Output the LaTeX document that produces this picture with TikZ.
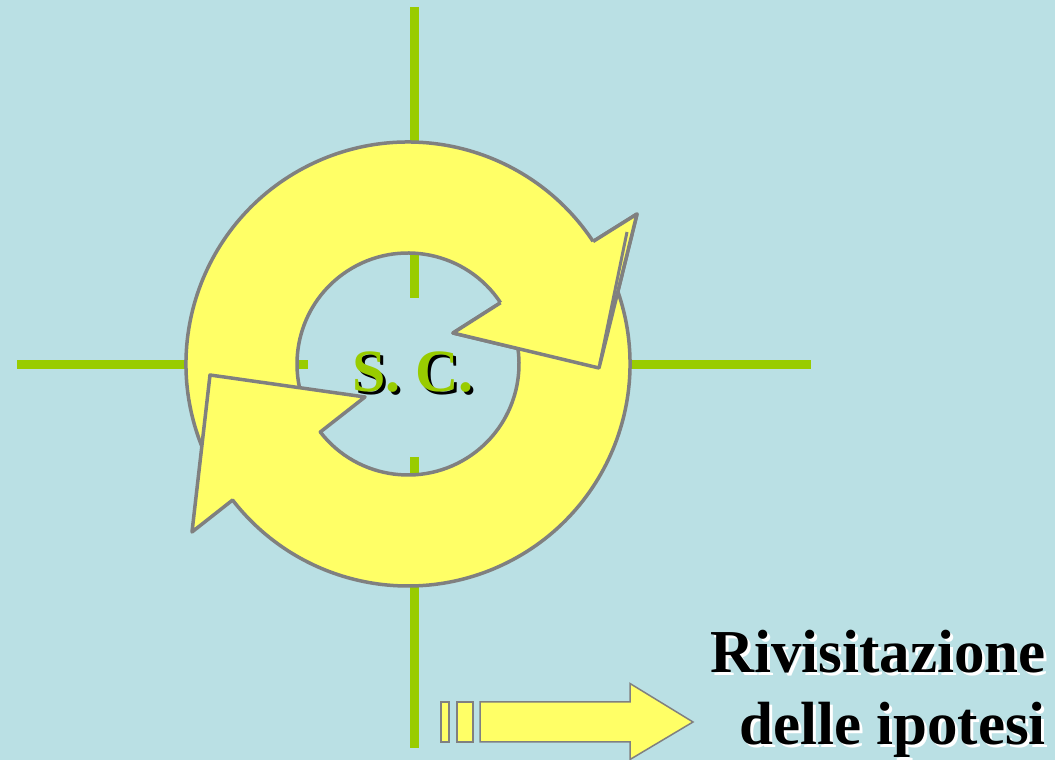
\documentclass[tikz,border=0pt]{standalone}
\usepackage{fontspec}
\setmainfont{Liberation Serif}
\usetikzlibrary{calc}
\definecolor{bg}{RGB}{186,224,228}
\definecolor{ylw}{RGB}{255,255,102}
\definecolor{grn}{RGB}{153,204,0}
\definecolor{edgegray}{RGB}{128,128,128}
\newcommand{\shadowtext}[4]{\makebox[0pt][l]{\hspace{#1}\raisebox{-#1}{\color{#2}#4}}{\color{#3}#4}}
\begin{document}
\begin{tikzpicture}[x=1pt,y=1pt,
  ring/.style={fill=ylw,draw=edgegray,line width=3.5pt,line join=round},
  ringedge/.style={draw=edgegray,line width=3.5pt,line join=round},
  spoke/.style={draw=grn,line width=9pt},
  smallbox/.style={fill=ylw,draw=edgegray,line width=1.5pt},
  bigtxt/.style={font=\fontsize{61}{72}\selectfont\bfseries,anchor=base east,inner sep=0pt},
  sctxt/.style={font=\fontsize{60}{72}\selectfont\bfseries,anchor=base west,inner sep=0pt}]
\fill[bg] (0,0) rectangle (1055,760);
\useasboundingbox (0,0) rectangle (1055,760);

\coordinate (c) at (408,396);
% spokes of the cross
\coordinate (sT1) at (414.5,753); \coordinate (sT2) at (414.5,462);
\coordinate (sB1) at (414.5,303); \coordinate (sB2) at (414.5,12);
\coordinate (sL1) at (17,395.5);  \coordinate (sL2) at (308,395.5);
\coordinate (sR1) at (520,395.5); \coordinate (sR2) at (811,395.5);
\draw[spoke] (sT1) -- (sT2);
\draw[spoke] (sB1) -- (sB2);
\draw[spoke] (sL1) -- (sL2);
\draw[spoke] (sR1) -- (sR2);

% arrow 1 (upper, head on the right)
\coordinate (a1ob) at ($(c)+(33.5:222)$);
\coordinate (a1ib) at ($(c)+(33.5:111)$);
\coordinate (a1ow) at (637,546);
\coordinate (a1tip) at (599,392);
\coordinate (a1iw) at (453,427);
\path[ring] (a1ob) -- (a1ow) -- (a1tip) -- (a1iw) -- (a1ib)
  arc[start angle=33.5, end angle=205, radius=111pt]
  -- ($(c)+(205:222)$)
  arc[start angle=205, end angle=33.5, radius=222pt] -- cycle;

% arrow 2 (lower, head on the left)
\coordinate (a2ob) at ($(c)+(217.8:222)$);
\coordinate (a2ib) at ($(c)+(217.8:111)$);
\coordinate (a2ow) at (192,228);
\coordinate (a2tip) at (210,385);
\coordinate (a2iw) at (365,363);
\path[ring] (a2ob) -- (a2ow) -- (a2tip) -- (a2iw) -- (a2ib)
  arc[start angle=217.8, end angle=385, radius=111pt]
  -- ($(c)+(385:222)$)
  arc[start angle=385, end angle=217.8, radius=222pt] -- cycle;

% head of arrow 1 drawn again over the tail of arrow 2
\fill[ylw] (a1ob) -- (a1ow) -- (a1tip) -- (a1iw) -- (a1ib) -- cycle;
\draw[ringedge] (a1ob) -- (a1ow) -- (a1tip) -- (a1iw) -- (a1ib);
\coordinate (lb1) at (627,528);
\coordinate (lb2) at (600,397);
\draw[ringedge,line width=3pt] (lb1) -- (lb2);

% centre text (black shadow under green)
\node[sctxt] (sc) at (352,368) {\shadowtext{3pt}{black}{grn}{S. C.}};

% small arrow
\path[smallbox] (441,18) rectangle (449,58);
\path[smallbox] (457,18) rectangle (473,58);
\path[smallbox] (480,18) -- (630,18) -- (630,0.5) -- (693,38) -- (630,76.5) -- (630,58) -- (480,58) -- cycle;

% right text (white shadow)
\node[bigtxt] (r1) at (1046,87) {\shadowtext{3pt}{white}{black}{Rivisitazione}};
\node[bigtxt] (r2) at (1046,15) {\shadowtext{3pt}{white}{black}{delle ipotesi}};
\end{tikzpicture}
\end{document}
